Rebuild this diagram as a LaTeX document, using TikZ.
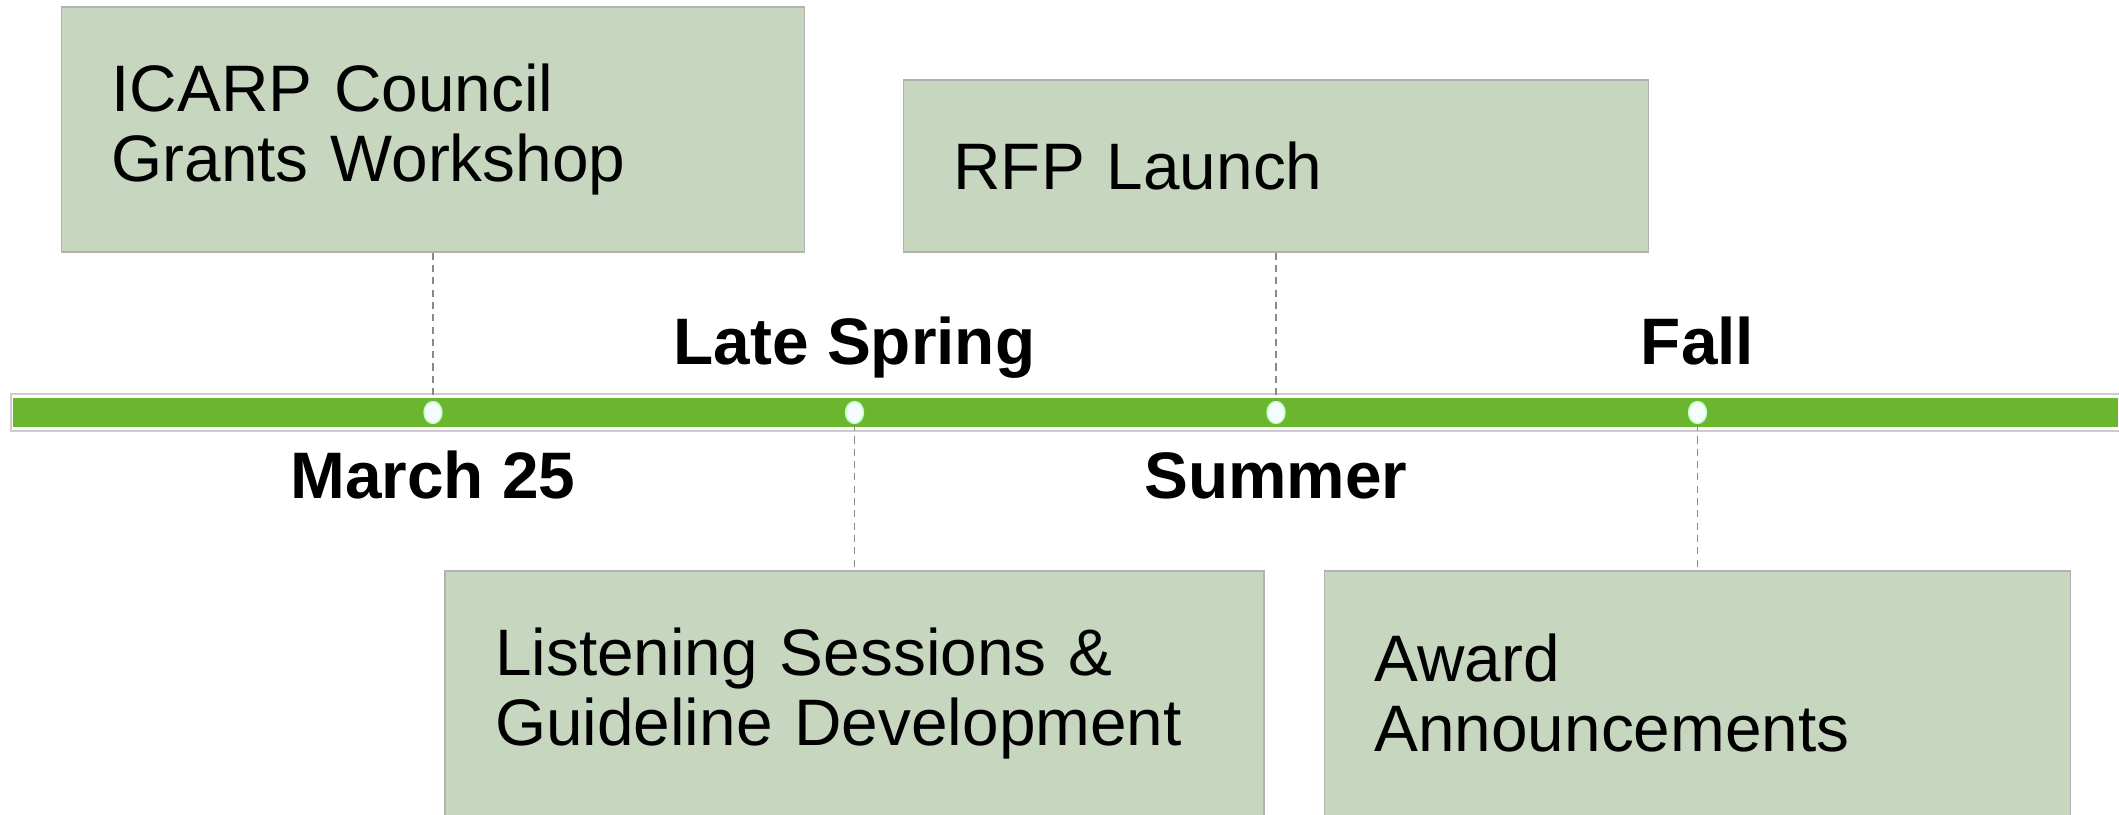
\documentclass[tikz,border=0pt]{standalone}
\usepackage{fontspec}
\setmainfont{Liberation Sans}
\usepackage{tikz}
\usetikzlibrary{shapes.geometric, positioning}
\definecolor{sage}{RGB}{199,214,191}
\definecolor{barGreen}{RGB}{106,182,46}
\definecolor{dashGray}{RGB}{140,140,126}
\tikzstyle{event} = [rectangle, minimum height=2.45cm, text width=6.43cm, inner xsep=0.5cm, align=left, draw=black!30, fill=sage, font=\fontsize{18.7}{19.9}\selectfont]
\tikzstyle{milestone} = [ellipse, minimum width=0.18cm, minimum height=0.22cm, inner sep=0pt, fill=cyan!4, draw=green!25]
\tikzstyle{season} = [anchor=base, font=\bfseries\fontsize{18.7}{19.9}\selectfont]
\tikzstyle{link} = [dashGray, dash pattern=on 2pt off 1.5pt, line width=0.5pt]

\begin{document}
\begin{tikzpicture}
  \useasboundingbox (0,0) rectangle (21.19,8.15);
  % timeline bar
  \draw[black!20, fill=white] (0.11,3.84) rectangle (21.4,4.21);
  \fill[barGreen] (0.13,3.88) rectangle (21.18,4.17);

  \node (d1) [milestone] at (4.33,4.025) {};
  \node (d2) [milestone] at (8.545,4.025) {};
  \node (d3) [milestone] at (12.76,4.025) {};
  \node (d4) [milestone] at (16.975,4.025) {};

  \node (workshop) [event, above=1.48cm of d1] {ICARP Council\\Grants Workshop};
  \node (rfp) [event, minimum height=1.72cm, text width=6.45cm, above=1.48cm of d3] {RFP Launch};
  \node (listening) [event, text width=7.19cm, below=1.46cm of d2] {Listening Sessions \&\\Guideline Development};
  \node (award) [event, text width=6.46cm, below=1.46cm of d4] {Award\\Announcements};

  \node (spring) [season] at (8.545,4.50) {Late Spring};
  \node (fall) [season] at (16.975,4.50) {Fall};
  \node (march) [season] at (4.33,3.16) {March 25};
  \node (summer) [season] at (12.76,3.16) {Summer};

  \draw[link] (workshop) -- (d1);
  \draw[link] (d2) -- (listening);
  \draw[link] (rfp) -- (d3);
  \draw[link] (d4) -- (award);
\end{tikzpicture}
\end{document}
